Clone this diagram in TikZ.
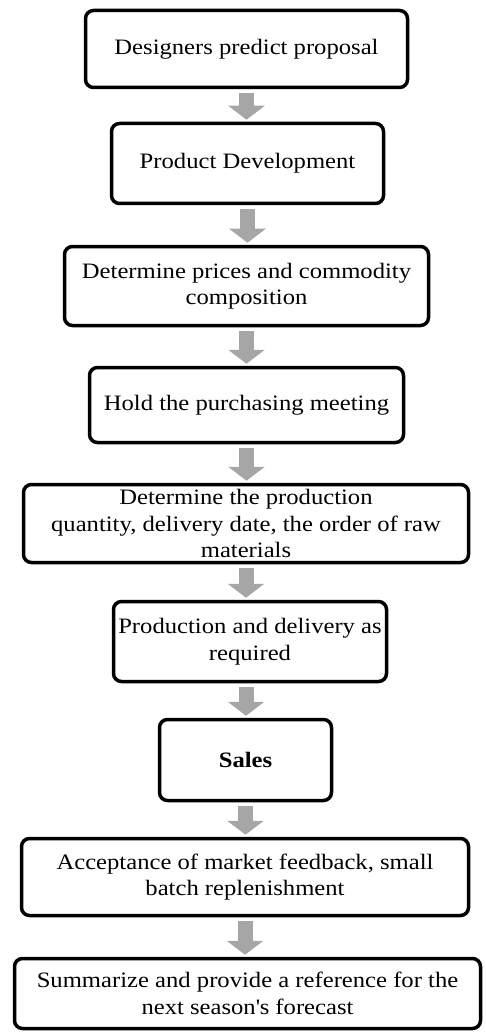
\documentclass[tikz,border=0pt]{standalone}
\usepackage{fontspec}
\setmainfont[FakeStretch=1.12]{Liberation Serif}
\usetikzlibrary{arrows.meta}
\begin{document}
\begin{tikzpicture}[x=1pt,y=-1pt,
  stage/.style={draw,line width=3.5pt,rounded corners=8pt,align=center,inner sep=0pt,
    font=\fontsize{22}{26.5}\selectfont},
  flow/.style={draw=black!35,line width=15pt,-{Triangle[width=36pt,length=14pt]},
    shorten <=4pt,shorten >=2pt}]
\useasboundingbox (0,0) rectangle (485,1032);
\node[stage,minimum width=322pt,minimum height=77pt] (propose) at (246.5,49) {Designers predict proposal};%box 1
\node[stage,minimum width=272pt,minimum height=80pt] (develop) at (247.5,163.5) {Product Development};%box 2
\node[stage,minimum width=364pt,minimum height=79pt] (prices) at (246.5,286) {Determine prices and commodity\\composition};%box 3
\node[stage,minimum width=314pt,minimum height=75pt] (meeting) at (246.5,405) {Hold the purchasing meeting};%box 4
\node[stage,minimum width=445pt,minimum height=78pt] (quantity) at (246,523.5) {Determine the production\\quantity, delivery date, the order of raw\\materials};%box 5
\node[stage,minimum width=273pt,minimum height=80pt] (delivery) at (250,641.5) {Production and delivery as\\required};%box 6
\node[stage,minimum width=172pt,minimum height=81pt] (sales) at (245.5,760) {\textbf{Sales}};%box 7
\node[stage,minimum width=447pt,minimum height=77pt] (feedback) at (245,877) {Acceptance of market feedback, small\\batch replenishment};%box 8
\node[stage,minimum width=466pt,minimum height=70pt] (summary) at (247.5,993.5) {Summarize and provide a reference for the\\next season\textquotesingle s forecast};%box 9
% grey arrows
\draw[flow] (propose.south) -- (propose.south |- develop.north);
\draw[flow] (develop.south) -- (develop.south |- prices.north);
\draw[flow] (prices.south) -- (prices.south |- meeting.north);
\draw[flow] (meeting.south) -- (meeting.south |- quantity.north);
\draw[flow] (quantity.south) -- (quantity.south |- delivery.north);
\draw[flow] (delivery.south -| quantity.south) -- (quantity.south |- sales.north);
\draw[flow] (sales.south) -- (sales.south |- feedback.north);
\draw[flow] (feedback.south) -- (feedback.south |- summary.north);
\end{tikzpicture}
\end{document}
